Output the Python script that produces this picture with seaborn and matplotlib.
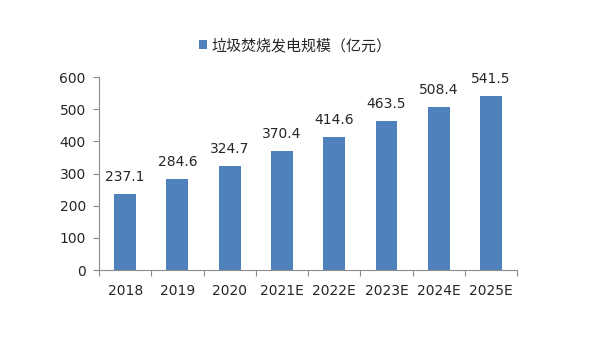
import matplotlib
matplotlib.use("Agg")
import matplotlib.pyplot as plt
import seaborn as sns
import pandas as pd

years = ["2018", "2019", "2020", "2021E", "2022E", "2023E", "2024E", "2025E"]
scale = [237.1, 284.6, 324.7, 370.4, 414.6, 463.5, 508.4, 541.5]
series_name = "垃圾焚烧发电规模（亿元）"
y_ticks = [0, 100, 200, 300, 400, 500, 600]

sns.set_theme(style="white")
plt.rcParams["font.family"] = ["DejaVu Sans", "Noto Sans CJK SC"]

df = pd.DataFrame({"year": years, "value": scale, "series": series_name})

fig = plt.figure(figsize=(6, 3.38), dpi=100)
ax = fig.add_axes([0.165, 0.201, 0.697, 0.571])

sns.barplot(data=df, x="year", y="value", hue="series", palette=["#4F81BD"],
            width=0.42, ax=ax, legend=True, saturation=1, linewidth=0)

for i, v in enumerate(scale):
    ax.annotate(f"{v:.1f}", xy=(i, v), xytext=(0, 9), textcoords="offset points",
                ha="center", va="baseline", fontsize=10, color="#262626")

ax.set_ylim(0, 600)
ax.set_yticks(y_ticks)
ax.set_xlim(-0.5, len(years) - 0.5)
ax.set_xlabel("")
ax.set_ylabel("")

for s in ["top", "right"]:
    ax.spines[s].set_visible(False)
for s in ["left", "bottom"]:
    ax.spines[s].set_color("#8C8C8C")
    ax.spines[s].set_linewidth(0.8)

ax.set_xticks(range(len(years)))
ax.set_xticklabels(years)
ax.tick_params(axis="x", length=0, labelsize=10, colors="#262626", pad=10)
ax.tick_params(axis="y", length=4.5, width=0.8, color="#8C8C8C", labelsize=10,
               labelcolor="#262626", left=True, direction="out", pad=5)
# boundary ticks between categories on the x axis
ax.set_xticks([i - 0.5 for i in range(len(years) + 1)], minor=True)
ax.tick_params(axis="x", which="minor", length=4.5, width=0.8, color="#8C8C8C",
               bottom=True, direction="out")

handles, labels = ax.get_legend_handles_labels()
ax.get_legend().remove()
fig.legend(handles, labels, loc="center", bbox_to_anchor=(0.492, 0.865),
           frameon=False, handlelength=0.56, handleheight=0.56,
           handletextpad=0.3, prop={"family": ["Noto Sans CJK SC", "DejaVu Sans"],
                                    "size": 10.8})

fig.savefig("out.png", dpi=100)
